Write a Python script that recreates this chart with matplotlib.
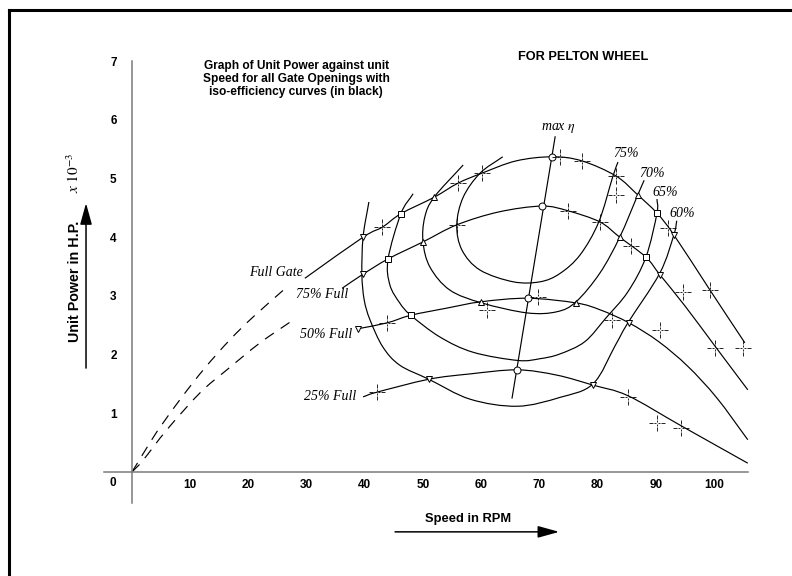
import numpy as np
import matplotlib
matplotlib.use('Agg')
import matplotlib.pyplot as plt
from matplotlib.path import Path
from matplotlib.patches import PathPatch, FancyArrowPatch
from matplotlib.lines import Line2D

plt.rcParams['mathtext.fontset'] = 'stix'

# gate opening curves (speed rpm, unit power x10^-3)
full_gate_speed = [29.7, 39.7, 43.0, 46.2, 51.9, 56.0, 60.1, 66.0, 72.2, 77.3, 83.2, 86.9, 90.2, 93.1, 99.3, 105.3]
full_gate_power = [3.30, 4.00, 4.17, 4.40, 4.68, 4.92, 5.09, 5.30, 5.37, 5.30, 5.04, 4.72, 4.41, 4.04, 3.10, 2.20]

gate75_speed = [36.1, 39.7, 44.0, 50.0, 55.8, 63.0, 70.4, 74.9, 80.4, 83.8, 88.3, 90.7, 95.0, 100.2, 105.8]
gate75_power = [3.13, 3.37, 3.63, 3.92, 4.21, 4.43, 4.53, 4.45, 4.26, 4.00, 3.66, 3.36, 2.83, 2.14, 1.40]

gate50_speed = [38.8, 43.8, 47.9, 54.0, 60.0, 68.0, 76.3, 80.5, 85.4, 90.5, 95.5, 100.5, 105.8]
gate50_power = [2.44, 2.54, 2.67, 2.79, 2.90, 2.96, 2.88, 2.76, 2.54, 2.22, 1.80, 1.26, 0.55]

gate25_speed = [39.7, 42.1, 51.0, 58.0, 66.2, 73.0, 79.2, 85.2, 94.3, 105.8]
gate25_power = [1.28, 1.36, 1.58, 1.67, 1.74, 1.65, 1.48, 1.30, 0.79, 0.15]

# dashed extrapolations to the origin
dash_upper_speed = [0.0, 3.4, 5.3, 8.6, 12.5, 16.8, 20.8, 26.6]
dash_upper_power = [0.0, 0.55, 0.83, 1.28, 1.77, 2.25, 2.64, 3.15]
dash_lower_speed = [0.0, 1.9, 6.0, 11.7, 16.3, 22.0, 27.7]
dash_lower_power = [0.0, 0.20, 0.72, 1.35, 1.74, 2.20, 2.59]

# iso-efficiency curves
iso75_speed = [63.7, 59.8, 56.9, 55.8, 56.7, 59.8, 65.5, 70.1, 73.5, 77.0, 80.2, 82.6, 83.5]
iso75_power = [5.37, 5.09, 4.68, 4.21, 3.78, 3.44, 3.24, 3.24, 3.38, 3.70, 4.26, 5.03, 5.28]

iso70_speed = [56.9, 51.9, 50.3, 50.0, 51.2, 54.6, 60.1, 67.9, 73.0, 76.3, 80.4, 83.8, 86.9, 88.0]
iso70_power = [5.23, 4.68, 4.34, 3.92, 3.49, 3.10, 2.88, 2.71, 2.73, 2.90, 3.39, 4.00, 4.72, 4.97]

iso65_speed = [48.3, 46.2, 44.0, 44.3, 46.0, 47.9, 52.9, 58.6, 66.3, 70.1, 73.5, 77.8, 81.4, 85.2, 88.3, 90.2, 90.2]
iso65_power = [4.74, 4.40, 3.63, 3.19, 2.88, 2.67, 2.30, 2.04, 1.90, 1.93, 2.01, 2.22, 2.62, 3.07, 3.66, 4.41, 4.65]

iso60_speed = [40.7, 39.7, 39.5, 39.9, 40.9, 43.1, 46.0, 51.0, 58.1, 66.2, 73.5, 79.2, 83.0, 85.2, 90.7, 93.1, 93.6]
iso60_power = [4.60, 4.00, 3.37, 2.93, 2.59, 2.13, 1.82, 1.58, 1.24, 1.12, 1.27, 1.50, 2.15, 2.54, 3.39, 4.04, 4.28]

max_eta_speed = [72.7, 65.3]
max_eta_power = [5.71, 1.26]

# point markers
circle_speed = [72.2, 70.4, 68.0, 66.2]
circle_power = [5.37, 4.53, 2.96, 1.74]
tri_down_speed = [39.7, 93.1, 39.7, 90.7, 38.8, 85.4, 51.0, 79.2]
tri_down_power = [4.00, 4.04, 3.37, 3.36, 2.44, 2.54, 1.58, 1.48]
square_speed = [46.2, 90.2, 44.0, 88.3, 47.9]
square_power = [4.40, 4.41, 3.63, 3.66, 2.67]
tri_up_speed = [51.9, 86.9, 50.0, 83.8, 60.0, 76.3]
tri_up_power = [4.68, 4.72, 3.92, 4.00, 2.90, 2.88]
cross_speed = [43.0, 56.0, 60.1, 73.5, 77.3, 83.2, 83.2, 55.8, 74.9, 80.4, 85.7, 92.1, 94.7, 99.3,
               100.2, 105.0, 43.8, 69.8, 61.0, 82.5, 90.7, 42.1, 85.2, 90.2, 94.3]
cross_power = [4.17, 4.92, 5.09, 5.37, 5.30, 5.04, 4.72, 4.21, 4.45, 4.26, 3.85, 4.16, 3.07, 3.10,
               2.11, 2.11, 2.54, 2.98, 2.76, 2.59, 2.42, 1.36, 1.28, 0.83, 0.75]

x_ticks = [10, 20, 30, 40, 50, 60, 70, 80, 90, 100]
y_ticks = [1, 2, 3, 4, 5, 6, 7]

SANS = 'Liberation Sans'
SERIF = 'Liberation Serif'


def smooth_path(xs, ys):
    # catmull-rom through the read points, drawn as cubic bezier
    pts = np.column_stack([xs, ys]).astype(float)
    ext = np.vstack([2 * pts[0] - pts[1], pts, 2 * pts[-1] - pts[-2]])
    verts = [pts[0]]
    codes = [Path.MOVETO]
    for i in range(1, len(ext) - 2):
        p0, p1, p2, p3 = ext[i - 1], ext[i], ext[i + 1], ext[i + 2]
        verts += [p1 + (p2 - p0) / 6, p2 - (p3 - p1) / 6, p2]
        codes += [Path.CURVE4] * 3
    return Path(verts, codes)


def curve(ax, xs, ys, **kw):
    ax.add_patch(PathPatch(smooth_path(xs, ys), fill=False, edgecolor='black',
                           lw=kw.pop('lw', 0.85), **kw))


fig = plt.figure(figsize=(7.92, 5.76), dpi=100)
ax = fig.add_axes([0, 0, 1, 1])
ax.set_xlim(-22.68, 113.40)
ax.set_ylim(-1.772, 8.041)

for s in ['top', 'right']:
    ax.spines[s].set_visible(False)
ax.spines['left'].set_position(('data', 0))
ax.spines['bottom'].set_position(('data', 0))
ax.spines['left'].set_bounds(-0.53, 7.0)
ax.spines['bottom'].set_bounds(-4.8, 105.8)
for s in ['left', 'bottom']:
    ax.spines[s].set_color('#7a7a7a')
    ax.spines[s].set_linewidth(1.1)

ax.set_xticks(x_ticks)
ax.set_yticks(y_ticks)
ax.tick_params(axis='x', length=0, pad=5)
ax.tick_params(axis='y', length=0, pad=11)
for lab in ax.get_xticklabels() + ax.get_yticklabels():
    lab.set_fontfamily(SANS)
    lab.set_fontweight('bold')
    lab.set_fontsize(8.5)
ax.text(-3.3, -0.19, '0', fontfamily=SANS, fontweight='bold', fontsize=8.5, ha='center', va='center')

# gate curves
curve(ax, full_gate_speed, full_gate_power)
curve(ax, gate75_speed, gate75_power)
curve(ax, gate50_speed, gate50_power)
curve(ax, gate25_speed, gate25_power)
curve(ax, dash_upper_speed, dash_upper_power, linestyle=(0, (9, 7)))
curve(ax, dash_lower_speed, dash_lower_power, linestyle=(0, (9, 7)))

# iso-efficiency curves
curve(ax, iso75_speed, iso75_power)
curve(ax, iso70_speed, iso70_power)
curve(ax, iso65_speed, iso65_power)
curve(ax, iso60_speed, iso60_power)
ax.plot(max_eta_speed, max_eta_power, color='black', lw=0.85)

mk = dict(ls='none', mfc='white', mec='black', mew=0.7, ms=5, zorder=5)
ax.plot(circle_speed, circle_power, marker='o', **mk)
ax.plot(tri_down_speed, tri_down_power, marker='v', **mk)
ax.plot(square_speed, square_power, marker='s', **mk)
ax.plot(tri_up_speed, tri_up_power, marker='^', **mk)

g = 0.12
cross_verts = [(-1, 0), (-0.55, 0), (-0.4, 0), (-g, 0), (g, 0), (0.4, 0), (0.55, 0), (1, 0),
               (0, -1), (0, -0.55), (0, -0.4), (0, -g), (0, g), (0, 0.4), (0, 0.55), (0, 1)]
cross_codes = [Path.MOVETO, Path.LINETO] * 8
dashed_cross = Path(cross_verts, cross_codes)
ax.plot(cross_speed, cross_power, ls='none', marker=dashed_cross, ms=11, mec='black', mew=0.6, zorder=6)

# labels on the curves
lab_kw = dict(fontfamily=SERIF, style='italic', fontsize=10)
ax.text(29.4, 3.40, 'Full Gate', ha='right', va='center', **lab_kw)
ax.text(37.2, 3.03, '75% Full', ha='right', va='center', **lab_kw)
ax.text(37.9, 2.35, '50% Full', ha='right', va='center', **lab_kw)
ax.text(38.6, 1.28, '25% Full', ha='right', va='center', **lab_kw)
ax.text(73.2, 5.86, r'max $\mathit{\eta}$', ha='center', va='center', **lab_kw)
ax.text(84.9, 5.43, '75%', ha='center', va='center', **lab_kw)
ax.text(89.4, 5.09, '70%', ha='center', va='center', **lab_kw)
ax.text(91.6, 4.77, '65%', ha='center', va='center', **lab_kw)
ax.text(94.5, 4.41, '60%', ha='center', va='center', **lab_kw)

# titles
ax.text(28.2, 6.69, 'Graph of Unit Power against unit\nSpeed for all Gate Openings with\niso-efficiency curves (in black)',
        ha='center', va='center', multialignment='center', fontfamily=SANS, fontweight='bold',
        fontsize=8.6, linespacing=1.1)
ax.text(77.5, 7.07, 'FOR PELTON WHEEL', ha='center', va='center', fontfamily=SANS,
        fontweight='bold', fontsize=9.2)

# axis titles and arrows
ax.text(-9.8, 3.24, 'Unit Power in H.P.', rotation=90, ha='center', va='center',
        fontfamily=SANS, fontweight='bold', fontsize=10.3)
ax.text(-10.0, 5.09, r'$\mathit{x\ 10^{-3}}$', rotation=90, ha='center', va='center', fontsize=11)
ax.text(57.7, -0.80, 'Speed in RPM', ha='center', va='center', fontfamily=SANS,
        fontweight='bold', fontsize=9.3)
ax.add_patch(FancyArrowPatch((-7.9, 1.77), (-7.9, 4.58), arrowstyle='-|>,head_length=1.3,head_width=0.36',
                             mutation_scale=10, color='black', lw=1.1, shrinkA=0, shrinkB=0))
ax.add_patch(FancyArrowPatch((45.2, -1.02), (73.4, -1.02), arrowstyle='-|>,head_length=1.3,head_width=0.36',
                             mutation_scale=10, color='black', lw=1.1, shrinkA=0, shrinkB=0))

# frame lines (top and left only)
fig.add_artist(Line2D([0.0114, 1.0], [0.9826, 0.9826], transform=fig.transFigure, color='black', lw=2.2))
fig.add_artist(Line2D([0.0114, 0.0114], [0.0, 0.9826], transform=fig.transFigure, color='black', lw=2.2))

fig.savefig('out.png', dpi=100)
